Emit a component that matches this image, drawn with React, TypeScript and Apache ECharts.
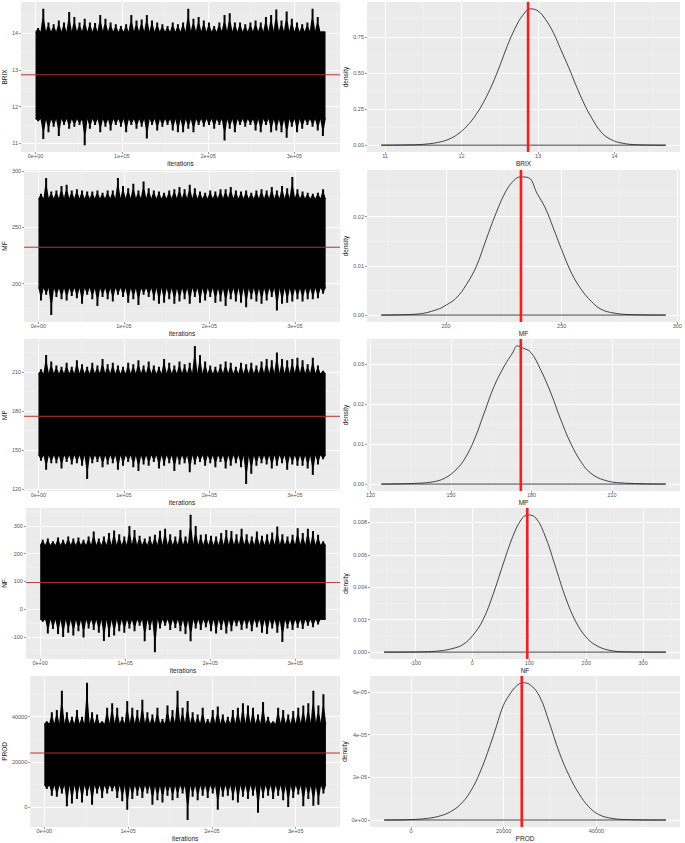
import React, { useEffect, useRef } from 'react';
import * as echarts from 'echarts';

const FONT = '"Liberation Sans", Arial, Helvetica, sans-serif';

// ---------- iterations (trace x axis) ----------
const BIN_WIDTH = 6000;
const N_ITER = 336000;
const ITER_TICKS = [0, 100000, 200000, 300000];
const ITER_LABELS = ['0e+00', '1e+05', '2e+05', '3e+05'];
const ITER_MINOR = [50000, 150000, 250000, 350000];

// ---------- BRIX ----------
const BRIX_HI = [14.15, 14.67, 14.3, 14.25, 14.35, 14.3, 14.58, 14.45, 14.3, 14.4, 14.3, 14.28, 14.5, 14.4, 14.3, 14.25, 14.2, 14.25, 14.5, 14.35, 14.38, 14.5, 14.35, 14.3, 14.25, 14.2, 14.3, 14.25, 14.3, 14.67, 14.4, 14.45, 14.35, 14.3, 14.2, 14.3, 14.5, 14.55, 14.3, 14.3, 14.25, 14.3, 14.35, 14.3, 14.45, 14.5, 14.65, 14.35, 14.6, 14.4, 14.3, 14.25, 14.3, 14.67, 14.45, 14.05];
const BRIX_LO = [11.6, 11.12, 11.3, 11.45, 11.2, 11.5, 11.4, 11.45, 11.5, 10.95, 11.4, 11.5, 11.3, 11.45, 11.35, 11.5, 11.45, 11.3, 11.5, 11.4, 11.45, 11.13, 11.5, 11.35, 11.45, 11.5, 11.35, 11.3, 11.3, 11.4, 11.3, 11.5, 11.45, 11.5, 11.4, 11.5, 11.08, 11.4, 11.3, 11.5, 11.45, 11.5, 11.35, 11.3, 11.5, 11.3, 11.35, 11.3, 11.15, 11.45, 11.3, 11.4, 11.5, 11.45, 11.35, 11.2];
const BRIX_CORE = [11.66, 14.05];
const BRIX_MEAN = 12.87;
const BRIX_DENSITY = [[10.95, 0], [11.3, 0.002], [11.5, 0.006], [11.7, 0.02], [11.85, 0.045], [11.98, 0.088], [12.1, 0.15], [12.2, 0.22], [12.3, 0.31], [12.4, 0.42], [12.5, 0.55], [12.6, 0.69], [12.7, 0.81], [12.8, 0.9], [12.9, 0.945], [13.0, 0.93], [13.1, 0.87], [13.2, 0.78], [13.3, 0.66], [13.4, 0.54], [13.5, 0.41], [13.6, 0.29], [13.7, 0.19], [13.83, 0.088], [13.95, 0.04], [14.1, 0.014], [14.3, 0.003], [14.67, 0]];
const BRIX_TICKS = [11, 12, 13, 14];
const BRIX_LABELS = ['11', '12', '13', '14'];
const BRIX_MINOR = [11.5, 12.5, 13.5, 14.5];
const BRIX_D_TICKS = [0, 0.25, 0.5, 0.75];
const BRIX_D_LABELS = ['0.00', '0.25', '0.50', '0.75'];
const BRIX_D_MINOR = [0.125, 0.375, 0.625, 0.875];

// ---------- MF ----------
const MF_HI = [280, 294, 282, 283, 287, 288, 283, 284, 283, 282, 282, 283, 281, 283, 283, 294, 287, 285, 289, 283, 291, 285, 283, 282, 281, 283, 284, 286, 284, 288, 285, 282, 281, 283, 282, 284, 284, 286, 283, 282, 283, 281, 283, 284, 283, 286, 283, 287, 285, 295, 284, 282, 281, 280, 281, 284];
const MF_LO = [185, 190, 172, 188, 186, 185, 189, 187, 182, 190, 186, 180, 188, 186, 184, 190, 188, 183, 186, 181, 190, 188, 185, 182, 183, 186, 182, 184, 186, 182, 188, 183, 185, 188, 183, 184, 180, 186, 184, 183, 179, 186, 184, 182, 185, 188, 176, 182, 183, 184, 186, 184, 186, 186, 187, 191];
const MF_CORE = [196, 276];
const MF_MEAN = 232.4;
const MF_DENSITY = [[172, 0], [187.5, 0.0002], [196, 0.0011], [200.3, 0.0021], [204.5, 0.0035], [208.8, 0.0062], [213.1, 0.0099], [217.3, 0.0153], [221.6, 0.0207], [225.9, 0.0252], [229.4, 0.0274], [232.2, 0.0281], [235.8, 0.0279], [239.3, 0.0248], [242.9, 0.0218], [246.4, 0.0177], [250, 0.0133], [254.3, 0.0085], [258.5, 0.0052], [262.8, 0.0028], [267, 0.0012], [272.7, 0.0004], [279.8, 0.0001], [295, 0]];
const MF_TICKS = [200, 250, 300];
const MF_LABELS = ['200', '250', '300'];
const MF_MINOR = [175, 225, 275];
const MF_D_TICKS = [0, 0.01, 0.02];
const MF_D_LABELS = ['0.00', '0.01', '0.02'];
const MF_D_MINOR = [0.005, 0.015, 0.025];

// ---------- MP ----------
const MP_HI = [212, 223, 218, 215, 214, 217, 214, 219, 216, 214, 217, 215, 220, 216, 217, 215, 214, 217, 216, 219, 215, 218, 215, 214, 220, 217, 215, 218, 216, 217, 230, 223, 218, 215, 214, 216, 218, 217, 214, 217, 216, 217, 215, 218, 220, 219, 225, 220, 219, 220, 221, 219, 216, 221, 215, 211];
const MP_LO = [142, 135, 140, 140, 136, 141, 139, 140, 138, 128, 140, 141, 137, 139, 140, 135, 138, 141, 137, 134, 139, 138, 141, 136, 138, 140, 134, 139, 140, 133, 139, 141, 138, 140, 137, 141, 136, 138, 140, 137, 124, 132, 138, 140, 139, 136, 138, 140, 135, 139, 138, 138, 136, 131, 139, 143];
const MP_CORE = [146, 209];
const MP_MEAN = 176;
const MP_DENSITY = [[124, 0], [137.4, 0.0002], [143.6, 0.0006], [147.4, 0.0014], [151.1, 0.0031], [154.8, 0.006], [158.6, 0.011], [162.3, 0.0177], [166, 0.0244], [169.8, 0.0295], [172.9, 0.0328], [174.7, 0.0346], [176.6, 0.0341], [179.7, 0.033], [183.4, 0.0286], [187.2, 0.0228], [190.9, 0.0161], [194.6, 0.0102], [198.4, 0.0056], [202.1, 0.0027], [207.1, 0.001], [213.3, 0.0003], [230, 0]];
const MP_TICKS = [120, 150, 180, 210];
const MP_LABELS = ['120', '150', '180', '210'];
const MP_MINOR = [135, 165, 195, 225];
const MP_D_TICKS = [0, 0.01, 0.02, 0.03];
const MP_D_LABELS = ['0.00', '0.01', '0.02', '0.03'];
const MP_D_MINOR = [0.005, 0.015, 0.025, 0.035];

// ---------- NF ----------
const NF_HI = [250, 255, 245, 258, 250, 262, 255, 258, 250, 262, 280, 255, 262, 275, 284, 270, 262, 300, 285, 265, 255, 262, 268, 283, 290, 270, 262, 285, 262, 340, 300, 268, 270, 265, 262, 275, 285, 282, 270, 290, 270, 262, 280, 265, 270, 276, 298, 270, 262, 268, 292, 275, 290, 282, 268, 245];
const NF_LO = [-45, -88, -72, -90, -100, -85, -95, -80, -102, -70, -75, -85, -115, -100, -95, -80, -85, -70, -80, -60, -116, -75, -155, -70, -60, -75, -68, -80, -90, -116, -70, -75, -65, -80, -88, -75, -88, -80, -62, -75, -70, -80, -65, -85, -90, -70, -85, -118, -70, -75, -68, -72, -60, -65, -55, -38];
const NF_CORE = [-38, 232];
const NF_MEAN = 96.5;
const NF_DENSITY = [[-155, 0], [-86, 0.00002], [-57, 0.00008], [-34, 0.00023], [-16.3, 0.00047], [1.2, 0.00105], [18.6, 0.00198], [36.1, 0.00353], [53.6, 0.00538], [71, 0.00713], [85.6, 0.00816], [97.3, 0.00847], [111.8, 0.00827], [129.3, 0.00703], [146.8, 0.00518], [164.2, 0.00332], [181.7, 0.00188], [199.2, 0.00095], [216.7, 0.00043], [240, 0.00012], [269, 0.00002], [340, 0]];
const NF_TICKS = [-100, 0, 100, 200, 300];
const NF_LABELS = ['-100', '0', '100', '200', '300'];
const NF_MINOR = [-150, -50, 50, 150, 250, 350];
const NF_D_TICKS = [0, 0.002, 0.004, 0.006, 0.008];
const NF_D_LABELS = ['0.000', '0.002', '0.004', '0.006', '0.008'];
const NF_D_MINOR = [0.001, 0.003, 0.005, 0.007];

// ---------- PROD ----------
const PROD_HI = [38000, 42000, 43000, 51500, 42000, 40000, 43000, 40000, 55000, 42000, 41000, 38000, 44000, 46000, 44000, 40000, 47000, 44000, 43000, 47500, 42000, 41000, 44000, 39000, 45000, 43000, 51500, 44000, 47000, 42000, 41000, 44000, 39000, 43000, 44500, 41000, 40000, 43000, 44000, 46000, 45000, 44000, 41000, 46500, 40000, 38000, 44000, 43000, 41000, 42500, 44000, 45000, 46000, 51500, 45000, 50000];
const PROD_LO = [8000, 5000, 4500, 6000, 300, 1500, 3500, 2000, 5000, 1000, 6000, 4000, 6000, 7000, 4000, 2500, -1200, 3500, 5000, 4000, 6000, 1000, 3000, 2000, 5000, 3000, 4000, 6000, -5800, 4500, 3000, 5000, 4000, 6000, -1200, 4500, 5000, 3000, 2000, 4500, 3500, 5000, -2600, 4000, 5000, 3500, 5000, 3000, 0, 4000, 5500, 300, 3500, 500, 1000, 6000];
const PROD_CORE = [9500, 37000];
const PROD_MEAN = 23900;
const PROD_DENSITY = [[-5800, 0], [-710, 1.6e-7], [3550, 7.8e-7], [6390, 2e-6], [8530, 3.9e-6], [10660, 7.3e-6], [12790, 1.32e-5], [14920, 2.25e-5], [17050, 3.49e-5], [18470, 4.42e-5], [19890, 5.35e-5], [21310, 5.89e-5], [22740, 6.28e-5], [24160, 6.43e-5], [25580, 6.36e-5], [27710, 5.81e-5], [29840, 4.57e-5], [31970, 3.18e-5], [34100, 2.09e-5], [36230, 1.24e-5], [38370, 6.2e-6], [40500, 2.6e-6], [43340, 7.8e-7], [47600, 1.6e-7], [55000, 0]];
const PROD_TICKS = [0, 20000, 40000];
const PROD_LABELS = ['0', '20000', '40000'];
const PROD_MINOR = [10000, 30000, 50000];
const PROD_D_TICKS = [0, 2e-5, 4e-5, 6e-5];
const PROD_D_LABELS = ['0e+00', '2e-05', '4e-05', '6e-05'];
const PROD_D_MINOR = [1e-5, 3e-5, 5e-5];

const PANELS = [
  { name: 'BRIX', hi: BRIX_HI, lo: BRIX_LO, core: BRIX_CORE, mean: BRIX_MEAN, dens: BRIX_DENSITY, t: BRIX_TICKS, tl: BRIX_LABELS, tm: BRIX_MINOR, d: BRIX_D_TICKS, dl: BRIX_D_LABELS, dm: BRIX_D_MINOR },
  { name: 'MF', hi: MF_HI, lo: MF_LO, core: MF_CORE, mean: MF_MEAN, dens: MF_DENSITY, t: MF_TICKS, tl: MF_LABELS, tm: MF_MINOR, d: MF_D_TICKS, dl: MF_D_LABELS, dm: MF_D_MINOR },
  { name: 'MP', hi: MP_HI, lo: MP_LO, core: MP_CORE, mean: MP_MEAN, dens: MP_DENSITY, t: MP_TICKS, tl: MP_LABELS, tm: MP_MINOR, d: MP_D_TICKS, dl: MP_D_LABELS, dm: MP_D_MINOR },
  { name: 'NF', hi: NF_HI, lo: NF_LO, core: NF_CORE, mean: NF_MEAN, dens: NF_DENSITY, t: NF_TICKS, tl: NF_LABELS, tm: NF_MINOR, d: NF_D_TICKS, dl: NF_D_LABELS, dm: NF_D_MINOR },
  { name: 'PROD', hi: PROD_HI, lo: PROD_LO, core: PROD_CORE, mean: PROD_MEAN, dens: PROD_DENSITY, t: PROD_TICKS, tl: PROD_LABELS, tm: PROD_MINOR, d: PROD_D_TICKS, dl: PROD_D_LABELS, dm: PROD_D_MINOR },
];

// ---------- layout ----------
const ROW_TOP = [2, 170, 339, 508, 676];
const ROW_BOTTOM = [152, 322, 491, 659, 829];
const LEFT_X0 = [21, 22.5, 22.5, 25, 28.3];
const LEFT_X1 = 340;
const RIGHT_X0 = [367, 367, 367, 370, 370];
const RIGHT_X1 = 680;
const LEFT_TITLE_X = 6;
const RIGHT_TITLE_X = 348;

function fmt(values: number[], labels: string[]) {
  return (v: number) => {
    let best = 0;
    let bd = Infinity;
    values.forEach((x, i) => {
      const d = Math.abs(x - v);
      if (d < bd) { bd = d; best = i; }
    });
    return labels[best];
  };
}

function axis(gridIndex: number, min: number, max: number, ticks: number[], labels: string[], name: string, isX: boolean, nameGap: number) {
  return {
    type: 'value',
    gridIndex,
    min,
    max,
    name,
    nameLocation: 'middle',
    nameGap,
    nameTextStyle: { fontSize: 6.5, color: '#1a1a1a', fontFamily: FONT },
    axisLine: { show: false, onZero: false },
    axisTick: { show: true, length: 2, customValues: ticks, lineStyle: { color: '#555', width: 0.6 } },
    axisLabel: { customValues: ticks, formatter: fmt(ticks, labels), fontSize: 5.5, color: '#555555', margin: isX ? 1.2 : 3, fontFamily: FONT },
    splitLine: { show: true, lineStyle: { color: '#FFFFFF', width: 1 } },
    minorSplitLine: { show: false },
  };
}

const minorRender = (params: any, api: any) => {
  const cs = params.coordSys;
  const kind = api.value(2);
  const p = api.coord([api.value(0), api.value(1)]);
  if (kind === 0) {
    return { type: 'line', shape: { x1: p[0], y1: cs.y, x2: p[0], y2: cs.y + cs.height }, style: { stroke: '#F4F4F4', lineWidth: 0.6 } };
  }
  return { type: 'line', shape: { x1: cs.x, y1: p[1], x2: cs.x + cs.width, y2: p[1] }, style: { stroke: '#F4F4F4', lineWidth: 0.6 } };
};

// solid band that every iteration bin covers
const coreRender = (params: any, api: any) => {
  const a = api.coord([api.value(0), api.value(2)]);
  const b = api.coord([api.value(1), api.value(3)]);
  return { type: 'rect', shape: { x: a[0], y: b[1], width: b[0] - a[0], height: a[1] - b[1] }, style: { fill: '#000' } };
};

// stalks from the band out to each bin's extreme values
function makeSpikeRender(core: number[]) {
  return (params: any, api: any) => {
    const x0 = api.value(0);
    const lo = api.value(1);
    const hi = api.value(2);
    const pTop = api.coord([x0, Math.max(hi, core[1])]);
    const pBot = api.coord([x0 + BIN_WIDTH, Math.min(lo, core[0])]);
    const pcTop = api.coord([x0, core[1]]);
    const pcBot = api.coord([x0, core[0]]);
    const xl = pTop[0] - 0.3;
    const xr = pBot[0] + 0.3;
    const w = xr - xl;
    const xc = (xl + xr) / 2;
    const half = 1.0;
    const hT = pcTop[1] - pTop[1];
    const hB = pBot[1] - pcBot[1];
    return {
      type: 'group',
      children: [
        {
          type: 'polygon',
          shape: { points: [[xl, pcTop[1] + 1], [xl + 0.2 * w, pcTop[1] - 0.35 * hT], [xc - half, pcTop[1] - 0.6 * hT], [xc - half, pTop[1]], [xc + half, pTop[1]], [xc + half, pcTop[1] - 0.55 * hT], [xr - 0.2 * w, pcTop[1] - 0.3 * hT], [xr, pcTop[1] + 1]] },
          style: { fill: '#000' },
        },
        {
          type: 'polygon',
          shape: { points: [[xl, pcBot[1] - 1], [xl + 0.2 * w, pcBot[1] + 0.3 * hB], [xc - half, pcBot[1] + 0.55 * hB], [xc - half, pBot[1]], [xc + half, pBot[1]], [xc + half, pcBot[1] + 0.6 * hB], [xr - 0.2 * w, pcBot[1] + 0.35 * hB], [xr, pcBot[1] - 1]] },
          style: { fill: '#000' },
        },
      ],
    };
  };
}

function minorLines(xMin: number[], yMin: number[], xMid: number, yMid: number) {
  const out: number[][] = [];
  xMin.forEach((v) => out.push([v, yMid, 0]));
  yMin.forEach((v) => out.push([xMid, v, 1]));
  return out;
}

function buildOption() {
  const grids: any[] = [];
  const xAxes: any[] = [];
  const yAxes: any[] = [];
  const series: any[] = [];
  const xIterMin = -0.05 * N_ITER;
  const xIterMax = 1.05 * N_ITER;

  PANELS.forEach((p, r) => {
    const vmin = Math.min(...p.lo);
    const vmax = Math.max(...p.hi);
    const span = vmax - vmin;
    const amin = vmin - 0.05 * span;
    const amax = vmax + 0.05 * span;
    const dmax = Math.max(...p.dens.map((d) => d[1]));
    const dAmin = -0.05 * dmax;
    const dAmax = 1.05 * dmax;
    const top = ROW_TOP[r];
    const h = ROW_BOTTOM[r] - top;
    const li = 2 * r;
    const ri = 2 * r + 1;

    grids.push({ left: LEFT_X0[r], top, width: LEFT_X1 - LEFT_X0[r], height: h, show: true, backgroundColor: '#EBEBEB', borderWidth: 0 });
    grids.push({ left: RIGHT_X0[r], top, width: RIGHT_X1 - RIGHT_X0[r], height: h, show: true, backgroundColor: '#EBEBEB', borderWidth: 0 });

    xAxes.push(axis(li, xIterMin, xIterMax, ITER_TICKS, ITER_LABELS, 'iterations', true, 8));
    yAxes.push(axis(li, amin, amax, p.t, p.tl, p.name, false, LEFT_X0[r] - LEFT_TITLE_X - 3.2));
    xAxes.push(axis(ri, amin, amax, p.t, p.tl, p.name, true, 8));
    yAxes.push(axis(ri, dAmin, dAmax, p.d, p.dl, 'density', false, RIGHT_X0[r] - RIGHT_TITLE_X - 3.2));

    // left: trace
    series.push({
      type: 'custom', xAxisIndex: li, yAxisIndex: li, z: 1, silent: true,
      dimensions: ['x', 'y', 'k'], encode: { x: 'x', y: 'y' },
      renderItem: minorRender,
      data: minorLines(ITER_MINOR, p.tm, N_ITER / 2, (amin + amax) / 2),
    });
    series.push({
      type: 'custom', xAxisIndex: li, yAxisIndex: li, z: 2, silent: true,
      dimensions: ['x0', 'x1', 'lo', 'hi'], encode: { x: ['x0', 'x1'], y: ['lo', 'hi'] },
      renderItem: coreRender,
      data: [[0, N_ITER, p.core[0], p.core[1]]],
    });
    series.push({
      type: 'custom', xAxisIndex: li, yAxisIndex: li, z: 2, silent: true,
      dimensions: ['it', 'lo', 'hi'], encode: { x: 'it', y: ['lo', 'hi'] },
      renderItem: makeSpikeRender(p.core),
      data: p.hi.map((hv, i) => [i * BIN_WIDTH, p.lo[i], hv]),
    });
    series.push({
      type: 'line', xAxisIndex: li, yAxisIndex: li, z: 3, silent: true, showSymbol: false, symbol: 'none',
      lineStyle: { color: '#b83232', width: 1 },
      data: [[xIterMin, p.mean], [xIterMax, p.mean]],
    });

    // right: density
    series.push({
      type: 'custom', xAxisIndex: ri, yAxisIndex: ri, z: 1, silent: true,
      dimensions: ['x', 'y', 'k'], encode: { x: 'x', y: 'y' },
      renderItem: minorRender,
      data: minorLines(p.tm, p.dm, (amin + amax) / 2, dmax / 2),
    });
    series.push({
      type: 'line', xAxisIndex: ri, yAxisIndex: ri, z: 3, silent: true, showSymbol: false, symbol: 'none',
      smooth: 0.4,
      lineStyle: { color: '#1a1a1a', width: 0.8 },
      data: p.dens,
    });
    series.push({
      type: 'line', xAxisIndex: ri, yAxisIndex: ri, z: 3, silent: true, showSymbol: false, symbol: 'none',
      lineStyle: { color: '#1a1a1a', width: 0.8 },
      data: [[vmin, 0], [vmax, 0]],
    });
    series.push({
      type: 'line', xAxisIndex: ri, yAxisIndex: ri, z: 4, silent: true, showSymbol: false, symbol: 'none',
      lineStyle: { color: '#ff1a1a', width: 2.6 },
      data: [[p.mean, dAmin], [p.mean, dAmax]],
    });
  });

  return {
    animation: false,
    backgroundColor: '#FFFFFF',
    grid: grids,
    xAxis: xAxes,
    yAxis: yAxes,
    series,
  };
}

export default function App() {
  const ref = useRef<HTMLDivElement>(null);
  useEffect(() => {
    if (!ref.current) return;
    const chart = echarts.init(ref.current, null, { renderer: 'svg' });
    chart.setOption(buildOption() as any);
    return () => chart.dispose();
  }, []);
  return (
    <div style={{ position: 'absolute', left: 0, top: 0, width: 685, height: 843, background: '#fff' }}>
      <div ref={ref} style={{ width: 685, height: 843 }} />
    </div>
  );
}
